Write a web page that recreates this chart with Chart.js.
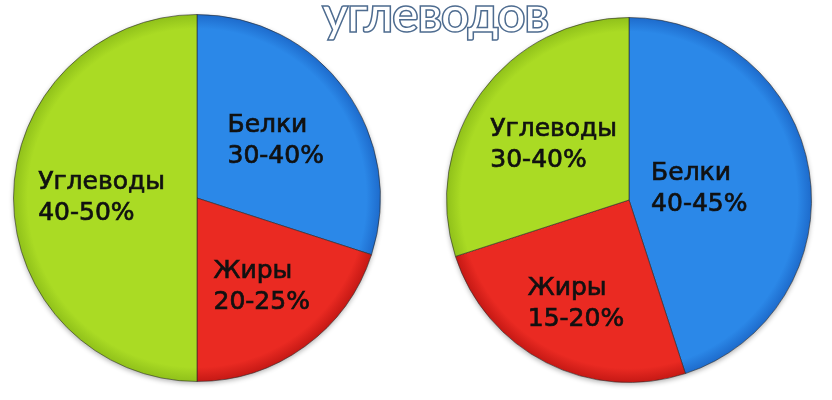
<!DOCTYPE html>
<html>
<head>
<meta charset="utf-8">
<script src="https://cdn.jsdelivr.net/npm/chart.js@4"></script>
<style>
  body { margin: 0; background: #fff; width: 832px; height: 400px; overflow: hidden; position: relative; }
  #left { position: absolute; left: 0; top: 0; }
  #right { position: absolute; left: 416px; top: 0; }
  #title {
    position: absolute; left: 435px; top: -12px; transform: translateX(-50%);
    font-family: Lato, sans-serif; font-weight: 700; font-size: 50px; line-height: 50px;
    letter-spacing: -1.5px; color: #fff; -webkit-text-stroke: 1.5px #4e6c90; white-space: nowrap;
  }
</style>
</head>
<body>
<canvas id="left" width="416" height="400"></canvas>
<canvas id="right" width="416" height="400"></canvas>
<div id="title">углеводов</div>
<script>
// Data
const categories = ['Белки', 'Жиры', 'Углеводы'];
const leftValues = [30, 20, 50];
const leftRanges = ['30-40%', '20-25%', '40-50%'];
const rightValues = [45, 25, 30];
const rightRanges = ['40-45%', '15-20%', '30-40%'];

// flat centre / darker rim for each slice (blue, red, green)
const innerColors = ['#2b88e8', '#ea2a22', '#aadb24'];
const outerColors = ['#1d6acb', '#c41814', '#8fc01a'];

let sliceFill = (ctx) => {
    const chart = ctx.chart;
    const area = chart.chartArea;
    if (!area) return innerColors[ctx.dataIndex];
    const cx = (area.left + area.right) / 2;
    const cy = (area.top + area.bottom) / 2;
    const r = Math.min(area.right - area.left, area.bottom - area.top) / 2;
    const g = chart.ctx.createRadialGradient(cx, cy, 0, cx, cy, r);
    g.addColorStop(0, innerColors[ctx.dataIndex]);
    g.addColorStop(0.92, innerColors[ctx.dataIndex]);
    g.addColorStop(1, outerColors[ctx.dataIndex]);
    return g;
};

// Draws the two-line label inside each slice
let makeLabels = (ranges, dist) => ({
    id: 'sliceLabels',
    afterDatasetsDraw(chart) {
        const ctx = chart.ctx;
        const meta = chart.getDatasetMeta(0);
        ctx.save();
        ctx.font = '25px "DejaVu Sans"';
        ctx.fillStyle = '#111';
        ctx.strokeStyle = '#111';
        ctx.lineWidth = 0.7;
        ctx.textBaseline = 'middle';
        ctx.textAlign = 'left';
        meta.data.forEach((arc, i) => {
            const p = arc.getProps(['x', 'y', 'startAngle', 'endAngle', 'outerRadius'], true);
            const mid = (p.startAngle + p.endAngle) / 2;
            const d = p.outerRadius * dist[i];
            const cx = p.x + Math.cos(mid) * d;
            const cy = p.y + Math.sin(mid) * d;
            const lines = [chart.data.labels[i], ranges[i]];
            const w = Math.max(...lines.map(t => ctx.measureText(t).width));
            lines.forEach((t, k) => {
                ctx.fillText(t, cx - w / 2, cy + (k - 0.5) * 31);
                ctx.strokeText(t, cx - w / 2, cy + (k - 0.5) * 31);
            });
        });
        ctx.restore();
    }
});

let shadow = {
    id: 'pieShadow',
    beforeDatasetsDraw(chart) {
        const arc = chart.getDatasetMeta(0).data[0];
        if (!arc) return;
        const ctx = chart.ctx;
        ctx.save();
        ctx.shadowColor = 'rgba(0,0,0,0.3)';
        ctx.shadowBlur = 5;
        ctx.shadowOffsetY = 2;
        ctx.fillStyle = '#fff';
        ctx.beginPath();
        ctx.arc(arc.x, arc.y, arc.outerRadius, 0, Math.PI * 2);
        ctx.fill();
        ctx.restore();
    }
};

let makePie = (id, values, ranges, dist, padding) => new Chart(document.getElementById(id), {
    type: 'pie',
    data: {
        labels: categories,
        datasets: [{
            data: values,
            backgroundColor: sliceFill,
            borderColor: 'rgba(40,40,40,0.6)',
            borderWidth: 1
        }]
    },
    options: {
        responsive: false,
        animation: false,
        layout: { padding: padding },
        plugins: { legend: { display: false }, tooltip: { enabled: false } }
    },
    plugins: [shadow, makeLabels(ranges, dist)]
});

makePie('left', leftValues, leftRanges, [0.53, 0.6, 0.52], { left: 13, right: 35, top: 14, bottom: 18 });
makePie('right', rightValues, rightRanges, [0.39, 0.64, 0.51], { left: 30, right: 20, top: 17, bottom: 17 });
</script>
</body>
</html>
